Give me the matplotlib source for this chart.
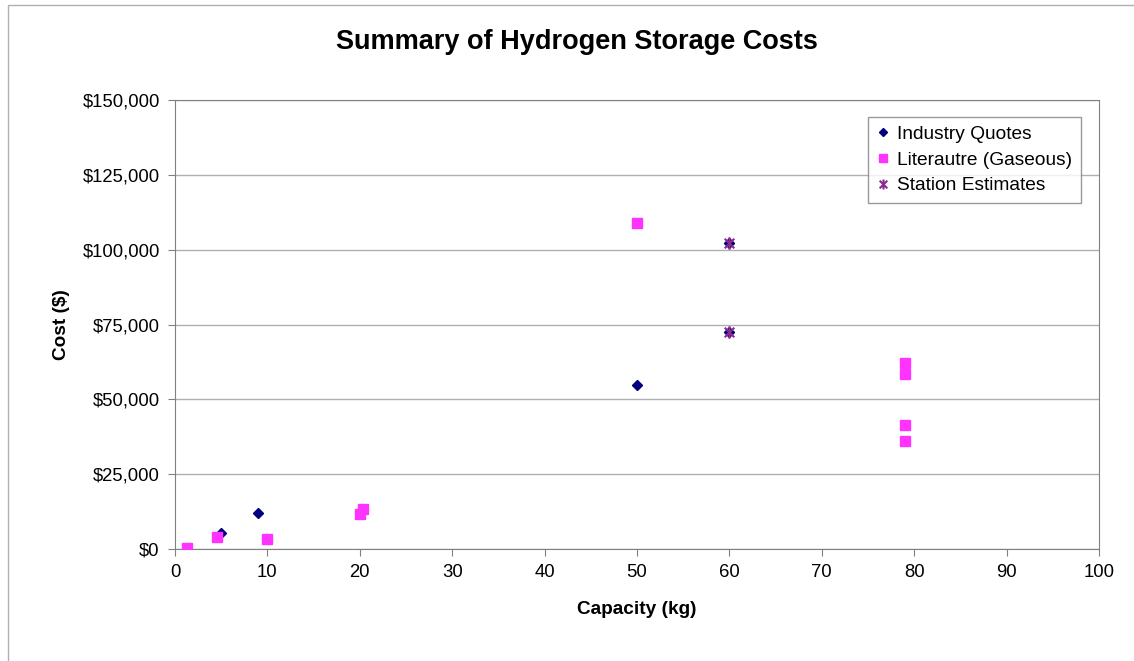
import matplotlib.pyplot as plt
from matplotlib.path import Path
from matplotlib.ticker import FuncFormatter, MultipleLocator
from matplotlib.patches import Rectangle

plt.rcParams['font.family'] = ['Liberation Sans', 'DejaVu Sans']

# data
industry_kg = [5, 9, 50, 60, 60]
industry_cost = [5500, 12100, 54800, 102200, 72500]

lit_kg = [1.3, 4.5, 10, 20, 20.3, 50, 79, 79, 79, 79]
lit_cost = [500, 4000, 3400, 11800, 13400, 108900, 62200, 58500, 41500, 36200]

station_kg = [60, 60]
station_cost = [102200, 72500]

# Excel style asterisk: X plus a vertical bar
star = Path([(-1, -1), (1, 1), (-1, 1), (1, -1), (0, -1.3), (0, 1.3)],
            [Path.MOVETO, Path.LINETO, Path.MOVETO, Path.LINETO, Path.MOVETO, Path.LINETO])

fig = plt.figure(figsize=(11.34, 6.61), dpi=100)
fig.patches.append(Rectangle((8 / 1134, -0.1), 1.2, (1 - 5 / 661) + 0.1, transform=fig.transFigure,
                             fill=False, edgecolor='#b0b0b0', linewidth=1))
ax = fig.add_axes([175 / 1134, 1 - 549 / 661, 924 / 1134, 449 / 661])

ax.plot(industry_kg, industry_cost, linestyle='none', marker='D', markersize=5.5,
        color='#000080', label='Industry Quotes', zorder=3)
ax.plot(lit_kg, lit_cost, linestyle='none', marker='s', markersize=7,
        color='#ff33ff', label='Literautre (Gaseous)', zorder=3)
ax.plot(station_kg, station_cost, linestyle='none', marker=star, markersize=9,
        markeredgewidth=1.5, color='#8e2a8e', label='Station Estimates', zorder=4)

ax.set_xlim(0, 100)
ax.set_ylim(0, 150000)
ax.xaxis.set_major_locator(MultipleLocator(10))
ax.yaxis.set_major_locator(MultipleLocator(25000))
ax.yaxis.set_major_formatter(FuncFormatter(lambda v, p: '${:,.0f}'.format(v)))
ax.grid(axis='y', color='#b0b0b0', linewidth=1)
ax.set_axisbelow(True)
for s in ax.spines.values():
    s.set_color('#808080')
ax.tick_params(axis='both', labelsize=13.3, color='#808080', length=5, direction='out', pad=6)

fig.text(577 / 1134, 1 - 42 / 661, 'Summary of Hydrogen Storage Costs', fontsize=19.5,
         fontweight='bold', ha='center', va='center')
ax.set_xlabel('Capacity (kg)', fontsize=13.7, fontweight='bold')
ax.xaxis.set_label_coords(0.5, -(610 - 549) / 449, transform=ax.transAxes)
ax.set_ylabel('Cost ($)', fontsize=13.7, fontweight='bold')
ax.yaxis.set_label_coords(-(175 - 61) / 924, 0.5, transform=ax.transAxes)
ax.xaxis.label.set_va('center')
ax.yaxis.label.set_va('center')

leg = ax.legend(loc='upper right', bbox_to_anchor=(0.9805, 0.963), fontsize=13.75, frameon=True,
                fancybox=False, edgecolor='#808080', handlelength=0.7, handletextpad=0.4,
                borderpad=0.45, labelspacing=0.45, borderaxespad=0, markerscale=0.8)
leg.get_frame().set_linewidth(1)

fig.savefig('out.png', dpi=100)
